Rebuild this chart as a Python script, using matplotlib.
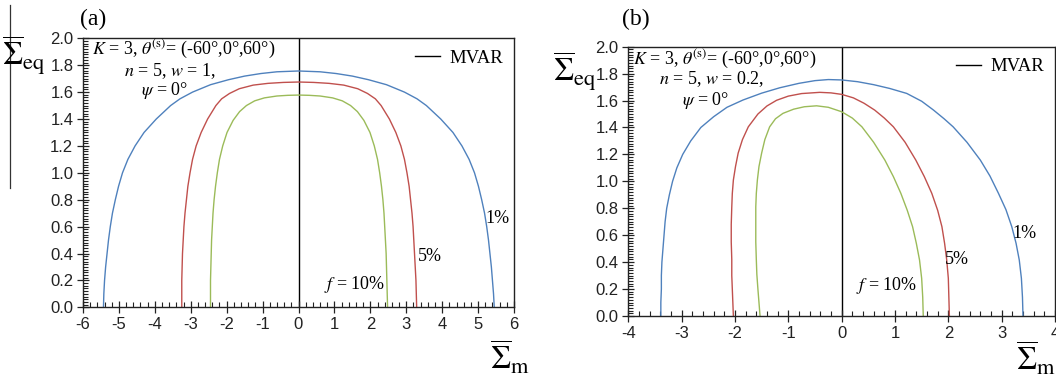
"""Two panels of yield-locus curves (f = 1%, 5%, 10%) with the MVAR line."""

import matplotlib
matplotlib.use('Agg')
import matplotlib.pyplot as plt
from matplotlib.lines import Line2D
from matplotlib.ticker import MultipleLocator

plt.rcParams['axes.unicode_minus'] = False
plt.rcParams['mathtext.fontset'] = 'stix'
plt.rcParams['font.family'] = ['Liberation Sans', 'DejaVu Sans']

SERIF = ['Liberation Serif', 'DejaVu Serif']
BLUE, RED, GREEN = '#4f81bd', '#c0504d', '#9bbb59'

# ---- panel (a): w = 1 (curves, left to right) ----
a_blue_x = [-5.43, -5.42, -5.40, -5.37, -5.33, -5.29, -5.24, -5.18, -5.10, -5.01,
            -4.90, -4.75, -4.55, -4.30, -3.96, -3.56, -3.30, -2.95, -2.45, -1.95,
            -1.50, -1.05, -0.60, 0.00, 0.60, 1.05, 1.50, 1.95, 2.45, 2.95,
            3.30, 3.56, 3.96, 4.30, 4.55, 4.75, 4.90, 5.01, 5.10, 5.18,
            5.24, 5.29, 5.33, 5.37, 5.40, 5.43, 5.45]
a_blue_y = [0.00, 0.10, 0.20, 0.30, 0.40, 0.50, 0.60, 0.70, 0.80, 0.90,
            1.00, 1.10, 1.20, 1.30, 1.40, 1.50, 1.55, 1.60, 1.655, 1.692,
            1.719, 1.738, 1.751, 1.757, 1.751, 1.738, 1.719, 1.692, 1.655, 1.60,
            1.55, 1.50, 1.40, 1.30, 1.20, 1.10, 1.00, 0.90, 0.80, 0.70,
            0.60, 0.50, 0.40, 0.30, 0.20, 0.10, 0.00]
a_red_x = [-3.25, -3.25, -3.25, -3.24, -3.23, -3.21, -3.19, -3.16, -3.12, -3.08,
           -3.02, -2.95, -2.85, -2.71, -2.53, -2.30, -2.14, -1.92, -1.65, -1.26,
           -0.85, -0.42, 0.00, 0.42, 0.85, 1.26, 1.65, 1.92, 2.14, 2.30,
           2.53, 2.71, 2.85, 2.95, 3.02, 3.08, 3.12, 3.16, 3.19, 3.21,
           3.23, 3.25, 3.27, 3.28, 3.29]
a_red_y = [0.00, 0.10, 0.20, 0.30, 0.40, 0.50, 0.60, 0.70, 0.80, 0.90,
           1.00, 1.10, 1.20, 1.30, 1.40, 1.50, 1.55, 1.59, 1.625, 1.652,
           1.665, 1.672, 1.675, 1.672, 1.665, 1.652, 1.625, 1.59, 1.55, 1.50,
           1.40, 1.30, 1.20, 1.10, 1.00, 0.90, 0.80, 0.70, 0.60, 0.50,
           0.40, 0.30, 0.20, 0.10, 0.00]
a_green_x = [-2.45, -2.45, -2.45, -2.44, -2.43, -2.42, -2.40, -2.38, -2.35, -2.31,
             -2.26, -2.20, -2.11, -1.99, -1.82, -1.64, -1.45, -1.22, -0.95, -0.60,
             -0.30, 0.00, 0.30, 0.60, 0.95, 1.22, 1.45, 1.64, 1.82, 1.99,
             2.11, 2.20, 2.26, 2.31, 2.35, 2.38, 2.40, 2.42, 2.44, 2.45,
             2.46, 2.47, 2.48]
a_green_y = [0.00, 0.10, 0.20, 0.30, 0.40, 0.50, 0.60, 0.70, 0.80, 0.90,
             1.00, 1.10, 1.20, 1.30, 1.39, 1.455, 1.50, 1.535, 1.557, 1.571,
             1.576, 1.578, 1.576, 1.571, 1.557, 1.535, 1.50, 1.455, 1.39, 1.30,
             1.20, 1.10, 1.00, 0.90, 0.80, 0.70, 0.60, 0.50, 0.40, 0.30,
             0.20, 0.10, 0.00]

# ---- panel (b): w = 0.2 ----
b_blue_x = [-3.39, -3.39, -3.38, -3.38, -3.37, -3.35, -3.33, -3.31, -3.28, -3.23,
            -3.17, -3.09, -2.98, -2.83, -2.64, -2.40, -2.15, -1.85, -1.50, -1.16,
            -0.80, -0.50, -0.25, 0.00, 0.30, 0.60, 0.90, 1.22, 1.50, 1.72,
            1.92, 2.09, 2.35, 2.60, 2.78, 2.94, 3.08, 3.19, 3.27, 3.33,
            3.37, 3.39, 3.40]
b_blue_y = [0.00, 0.10, 0.20, 0.30, 0.40, 0.50, 0.60, 0.70, 0.80, 0.90,
            1.00, 1.10, 1.20, 1.30, 1.40, 1.48, 1.55, 1.604, 1.655, 1.695,
            1.728, 1.748, 1.756, 1.753, 1.740, 1.718, 1.690, 1.653, 1.595, 1.53,
            1.465, 1.405, 1.29, 1.158, 1.04, 0.911, 0.79, 0.663, 0.54, 0.416,
            0.28, 0.14, 0.00]
b_red_x = [-2.03, -2.04, -2.05, -2.06, -2.06, -2.07, -2.07, -2.06, -2.05, -2.03,
           -1.99, -1.94, -1.86, -1.75, -1.57, -1.40, -1.22, -1.00, -0.75, -0.41,
           -0.20, 0.00, 0.22, 0.42, 0.62, 0.80, 0.97, 1.19, 1.39, 1.55,
           1.69, 1.80, 1.88, 1.93, 1.97, 2.00, 2.01, 2.02]
b_red_y = [0.00, 0.10, 0.20, 0.30, 0.42, 0.55, 0.68, 0.81, 0.91, 1.01,
           1.11, 1.21, 1.31, 1.405, 1.50, 1.56, 1.602, 1.633, 1.652, 1.661,
           1.657, 1.646, 1.620, 1.580, 1.529, 1.47, 1.405, 1.29, 1.158, 1.035,
           0.911, 0.785, 0.663, 0.54, 0.416, 0.28, 0.14, 0.00]
b_green_x = [-1.53, -1.55, -1.57, -1.59, -1.60, -1.61, -1.61, -1.61, -1.60, -1.58,
             -1.55, -1.50, -1.44, -1.35, -1.24, -1.10, -0.90, -0.70, -0.47, -0.25,
             0.00, 0.20, 0.38, 0.60, 0.81, 0.97, 1.11, 1.23, 1.33, 1.40,
             1.46, 1.50, 1.52, 1.53]
b_green_y = [0.00, 0.10, 0.20, 0.31, 0.42, 0.55, 0.68, 0.81, 0.91, 1.01,
             1.11, 1.21, 1.31, 1.405, 1.465, 1.505, 1.536, 1.554, 1.561, 1.550,
             1.517, 1.47, 1.405, 1.29, 1.158, 1.035, 0.911, 0.785, 0.663, 0.54,
             0.416, 0.28, 0.14, 0.00]

W, H = 1056, 378
fig = plt.figure(figsize=(W / 100, H / 100), dpi=100)


def px_axes(x0, y0, x1, y1):
    # axes rectangle given in picture pixels (top-left origin)
    return fig.add_axes([x0 / W, 1 - y1 / H, (x1 - x0) / W, (y1 - y0) / H])


def style(ax, xlim, notes):
    ax.set_xlim(*xlim)
    ax.set_ylim(0, 2.0)
    ax.xaxis.set_major_locator(MultipleLocator(1))
    ax.xaxis.set_minor_locator(MultipleLocator(0.2))
    ax.yaxis.set_major_locator(MultipleLocator(0.2))
    ax.yaxis.set_minor_locator(MultipleLocator(0.02))
    ax.yaxis.set_major_formatter('{x:.1f}')
    ax.tick_params(which='major', direction='inout', length=8, width=0.9,
                   labelsize=12, colors='#222222', pad=3)
    ax.tick_params(which='minor', direction='in', length=3.5, width=0.8,
                   colors='#222222')
    ax.tick_params(top=False, right=False, which='both')
    for sp in ax.spines.values():
        sp.set_linewidth(1.0)
        sp.set_color('#222222')
    ax.axvline(0, color='black', lw=1.0, label='MVAR', zorder=1)
    ax.legend(loc='upper right', frameon=False, handlelength=1.3,
              handletextpad=0.5, borderaxespad=0.2,
              prop={'family': SERIF, 'size': 13.5})
    for (tx, ty, s, ha) in notes:
        ax.text(tx, ty, s, transform=ax.transAxes, ha=ha, va='center',
                fontsize=13, family=SERIF)


# panel (a)
ax1 = px_axes(83, 38.3, 514, 307.3)
ax1.plot(a_blue_x, a_blue_y, color=BLUE, lw=1.0)
ax1.plot(a_red_x, a_red_y, color=RED, lw=1.0)
ax1.plot(a_green_x, a_green_y, color=GREEN, lw=1.0)
style(ax1, (-6, 6), [
    (0.02, 0.963, r'$K$ = 3, $\theta^{\mathrm{(s)}}$= (-60°,0°,60°)', 'left'),
    (0.202, 0.878, r'$n$ = 5, $w$ = 1,', 'center'),
    (0.19, 0.806, r'$\psi$ = 0°', 'center'),
])
ax1.text(5.2, 0.66, '1%', fontsize=13, family=SERIF, va='center')
ax1.text(3.33, 0.375, '5%', fontsize=13, family=SERIF, va='center')
ax1.text(2.41, 0.166, r'$f$ = 10%', fontsize=13, family=SERIF, va='center', ha='right')

# panel (b)
ax2 = px_axes(628.3, 46.7, 1055, 316)
ax2.plot(b_blue_x, b_blue_y, color=BLUE, lw=1.0)
ax2.plot(b_red_x, b_red_y, color=RED, lw=1.0)
ax2.plot(b_green_x, b_green_y, color=GREEN, lw=1.0)
style(ax2, (-4, 4), [
    (0.012, 0.957, r'$K$ = 3, $\theta^{\mathrm{(s)}}$= (-60°,0°,60°)', 'left'),
    (0.195, 0.878, r'$n$ = 5, $w$ = 0.2,', 'center'),
    (0.18, 0.800, r'$\psi$ = 0°', 'center'),
])
ax2.text(3.21, 0.614, '1%', fontsize=13, family=SERIF, va='center')
ax2.text(1.94, 0.416, '5%', fontsize=13, family=SERIF, va='center')
ax2.text(1.42, 0.23, r'$f$ = 10%', fontsize=13, family=SERIF, va='center', ha='right')

# panel letters and axis symbols
fig.text(80 / W, 1 - 19 / H, '(a)', fontsize=17, family=SERIF, va='center')
fig.text(622 / W, 1 - 19 / H, '(b)', fontsize=17, family=SERIF, va='center')
fig.text(2 / W, 1 - 55 / H, r'$\overline{\Sigma}_{\mathrm{eq}}$', fontsize=23, va='center')
fig.text(553 / W, 1 - 71 / H, r'$\overline{\Sigma}_{\mathrm{eq}}$', fontsize=23, va='center')
fig.text(490 / W, 1 - 358 / H, r'$\overline{\Sigma}_{\mathrm{m}}$', fontsize=23, va='center')
fig.text(1016 / W, 1 - 359 / H, r'$\overline{\Sigma}_{\mathrm{m}}$', fontsize=23, va='center')

# stray vertical rule at the left edge of the scan
fig.add_artist(Line2D([10 / W, 10 / W], [1 - 5 / H, 1 - 188 / H],
                      color='#333333', lw=0.9))

fig.savefig('out.png', dpi=100)
